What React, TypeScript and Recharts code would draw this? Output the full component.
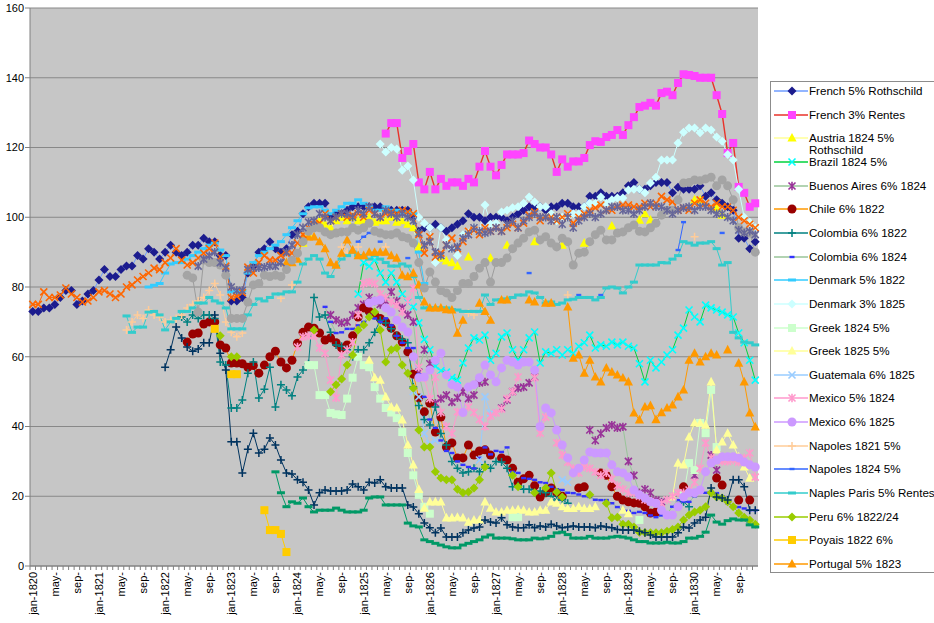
import React from 'react';
import { LineChart, Line, XAxis, YAxis, CartesianGrid } from 'recharts';

document.body.style.margin = '0';

const FONT = '"Liberation Sans", Arial, Helvetica, sans-serif';
const N = 132;
const n = null;

const monthNames = ['jan', 'feb', 'mar', 'apr', 'may', 'jun', 'jul', 'aug', 'sep', 'oct', 'nov', 'dec'];
const years = [1820, 1821, 1822, 1823, 1824, 1825, 1826, 1827, 1828, 1829, 1830];
const months = years.flatMap((y) => monthNames.map((m) => `${m}-${y}`));
const yTicks = [0, 20, 40, 60, 80, 100, 120, 140, 160];

type V = number | null;

// place a run of monthly values starting at month index `start`
function at(start: number, values: V[]): V[] {
  const a: V[] = new Array(N).fill(null);
  values.forEach((v, k) => {
    if (start + k < N) a[start + k] = v;
  });
  return a;
}
function join(...parts: V[][]): V[] {
  return parts[0].map((_, i) => {
    for (const p of parts) if (p[i] != null) return p[i];
    return null;
  });
}

const french5: V[] = [
  73, 73, 74, 74, 75, 77, 79, 79, 75, 76, 78, 79,
  82, 85, 83, 83, 85, 86, 86, 89, 88, 91, 90, 88,
  90, 92, 90, 89, 90, 92, 92, 94, 93, 93, 89, 89,
  76, 76, 77, 84, 86, 90, 91, 93, 91, 90, 91, 95,
  96, 101, 103, 104, 104, 104, 100, 101, 101, 102, 103, 103,
  103, 103, 103, 103, 102, 102, 102, 102, 102, 100, 96, 97,
  97, 98, 97, 96, 97, 98, 99, 101, 100, 100, 99, 100,
  100, 100, 99, 100, 101, 102, 103, 103, 103, 102, 103, 103,
  104, 104, 103, 103, 103, 106, 106, 107, 106, 106, 106, 107,
  109, 110, 108, 108, 109, 110, 110, 110, 107, 108.6, 108, 108,
  108, 109, 106, 107, 105, 104, 103, 102, 94, 94, 91, 93,
];

const french3 = at(64, [
  124, 127, 127, 117, 119, 121, 110, 108, 113, 108, 111, 109, 110, 110, 109, 111, 110, 114.5, 119, 114.5,
  112, 115, 118, 118, 118, 118.4, 122, 121, 120, 120, 118, 113,
  116.6, 114.5, 116, 116, 117, 120.7, 121.8, 121.6, 123, 123.6, 125, 123.6,
  126.4, 128.7, 131.6, 132, 132.8, 132, 135.6, 136, 135, 138.5, 141, 140.8,
  140.5, 140, 140, 140, 135, 129.6, 118.4, 121.3, 108.7, 107, 103, 104,
]);

const austria = at(49, [
  92.6, 95, 98, 99, 98, 97, 99, 100, 99, 100, 99,
  99, 100, 98.6, 99, 99, 100, 98.6, 99, 98, 97, 91.5, n,
  n, n, 88.3, 87.5, 87, 86, n, 88.6, n, n, n, 88.3,
  n, n, 92, n, n, n, n, 93, n, n, n, n,
  92, n, n, n, 92.6, n, n, n, n, 97.5, n, n,
  n, n, 99.2, 101, 99.2, n, n, n, n, n, n, n,
  105, 105, n, n, 102.7, 100.6, n, n, n, n, n, n,
]);

const brazil = at(59, [
  78,
  87, 86, 87.7, 84, 81.4, 84, 81.4, 78, 75.7, 74.3, 69.7, 65,
  62, 57.3, 56, 55.6, 54, 53.3, 58.2, 62.5, 65.4, 64.8, 66.2, 59,
  61, 65.7, 66.8, 62, 59, 62, 65.4, 67.1, 58.2, 61.4, 61, 62,
  60.5, 62, 61, 63, 64, 66.2, 62.5, 63.4, 63, 64.2, 63.4, 64.2,
  63, 62.5, 58, 52.8, 59, 56.8, 58.5, 60.5, 62, 66.2, 68.2, 73.4,
  71.4, 70, 74.8, 74, 73.4, 72.8, 72, 71.4, 66.8, 64, 59, 53.3,
]);

const buenosAires = at(54, [
  72, 70.5, 69.7, 70, 72, 74,
  75, 77, 76, 75, 76, 78.6, 76, 74, 72, 70, 55.6, 62,
  58, 46.7, 48, 49, 47, 48.2, 50, 48, 49, 52.5, 52.8, n,
  n, 45.3, 47.6, 50, 51, 51.3, 52.5, 54.2, n, n, n, n,
  n, n, n, n, n, 39, 36, 38, 39.6, 40.4, 39.6, 39.9,
  30, 26, 21, 22, 21, 18.9, 18.4, n, n, n, n, n,
  26, n, n, 31.8, 27.5, n, n, n, n, n, n, n,
]);

const chile = at(28, [
  64.2, 66.5, 66.8, 69.4, 70, 70, 63.4, 62.5,
  58.2, 58.2, 58, 57, 57.5, 55.3, 57.6, 60, 61.6, 58.5, 56.8, 59,
  63.9, 67, 68.5, 68.2, 66.8, 64.8, 65.4, 64, 62.5, 63.4, 66, 71.4,
  74, 73, 72, 71, 70, 68.2, 66, 64.2, 61.4, 55, 48.2, 44.2,
  46.7, 38.4, 42.7, 34.1, 35.3, 31, 31, 34.7, 31.8, 33, 33.3, 31.8,
  n, 31, 30.4, 28, 24, 25, 26, 23, 19.8, 21, 22.4, 21,
  20, n, n, 22.4, 22.7, n, n, 26.7, 26, 22.7, 20, 18.9,
  18.4, 18.1, 18, 17, 15.2, 15.5, n, n, n, n, 22.7, n,
  n, n, n, n, 25.2, 23.2, n, n, 18.9, n, 18.9, n,
]);

const colombia22 = at(27, [
  71.4, 70, 72, 71, 72, 72, 71, 58.5, 57.6,
  45.3, 45.3, 47.6, 55.3, 58.5, 48.2, 50.7, 57, 45.6, 52, 50.5, 48.8,
  54.2, 56.2, 58, 77, 71.4, 72, 67, 63.4, 63, 62, 60, 62,
  62, 64, 67, 70.5, 69.7, 68, 66, 65, 64, 51.3, 46, 42,
  40.4, 45.6, 38, 34.7, 30, 28, 26.7, 27, 28, 27, 29, 28,
  30, 29.8, 28, 22.7, 23, 22, 22, 21, 21.5, 21, 20, 18.9,
  19, 18, n, n, n, n, n, n, n, n, n, n,
  n, n, n, n, n, n, n, n, n, 17, 18.4, 17,
]);

const colombia24 = at(53, [
  74.3, 70, 66.8, 67, 68, 68, 69,
  70, 72, 71, 70, 71, 69, 66, 64, 62.5, 62.5, 55, 48.5,
  42, 39.6, 36, 33, 32.4, 30, 29, 28.4, 28, 31, 34, 32,
  33, 32.7, 34, 27, 26.7, 25.2, 25, 24.7, 24, 23.8, 22.7, 22,
  21.8, 21, 20.9, 20.5, 20, 19.8, 19, 18.9, 18.9, 18, 16.9, 16,
  15.8, 15.2, 15.5, 15.2, 14.5, 14, 14.5, 15, 17, 18.9, 18.5, 18.4,
  20, 21.8, 21, 21, 20.9, 20, 18, 17, 16.9, 16.5, 16, 16,
]);

const denmark22 = at(21, [
  80, 80.5, 81, 84, 86.6, 87, 87, 88, 89, 90, 91, 92, 92.6, 90.6, 89,
  78.6, 78.6, 79, 84, 87, 89, 90, 91, 92, 93, 95, 97,
  99, 101, 102.7, 103, 103, 102, 101, 102, 103, 104, 104, 105,
  104, 103, 102, 102, 103, 102, 102, 101, 101.5, 101, 90, 81,
]);

const denmark25 = at(63, [
  121, 118.7, 120, 119.6, 113.5, 114.7, 110.7, 100, 98.3, 97, 87, 97, 93.5, 91, 89, 95, 95.5, 97, 96, 103.5, 98,
  98.3, 101.5, 102, 102.7, 103, 104, 105.8, 104.4, 103, 103, 101, 99,
  100, 100, 101, 101, 103, 104, 104, 105.8, 104, 105, 105.5, 105.5,
  107.8, 108, 108, 107, 109.8, 111.5, 116.4, 116.4, 116.4, 121.3, 124.4, 125.6,
  125.6, 124.2, 125.6, 125, 123, 121.8, 118, 116.4, 108, 100, 98.6, 97,
]);

const greek24 = at(50, [
  57.6, 57.6, 49, 49, 43.9, 43.5, 43.3, 48, 54, 60,
  57.6, 57, 51.3, 48, 45.3, 44, 42.4, 38.4, 32.4, 26, 20.4, 17,
  15, n, n, n, n, n, n, n, n, n, n, n,
  n, n, n, 14, 14, n, n, n, n, n, n, n,
  n, n, n, n, n, n, n, n, n, n, n, n,
  n, n, 13.2, n, n, n, n, n, n, n, 20.4, 29.5,
  27.5, 41, 38.1, 50.5, 34.1, n, n, n, n, n, n, n,
]);

const greek25 = at(61, [
  59, 54, 53.3, 48.5, 45.6, 45.3, 41.9, 34.7, 29, 22, 16.6,
  18.4, 18.4, 18.4, 13.8, 13.8, 14, 13.8, 12.6, 13.2, 13.2, 18.4, 16.6,
  15.5, 15.5, 16, 16, 16.2, 16, 15.5, 15.5, 16, 16, 18.4, 18,
  17, 16.5, 16.5, 17, 16.5, 16.5, 17, n, n, n, n, 16,
  15, n, n, n, n, n, n, n, 19.8, 29.5, 29, 37,
  41, 41, 40.4, 52.8, 33.3, 35.6, 38.1, 34.7, 31.3, 28.4, 25.2, n,
]);

const guatemala = at(69, [
  50, 48.5, 38, 35, 36, n, n, n, n, n, n, n, 30.4, 48.5, 43.9,
  n, n, n, n, n, n, n, n, n, n, n, n, 24.7, 24,
]);

const mexico24 = at(48, [
  62.8, 65.7, 66, 66, 62.5, 61, 53.3, 48.2, 60.5, 62, 64.2, 72,
  81, 81.4, 81, 78, 77, 75.7, 74.8, 72.8, 76, 79.7, 57, 54,
  48, 54.2, 44, 40, 38, 44.2, 44, 45.6, 44, 42, 40, 43,
  43.9, 45, 48, 50, 54.2, n, n, 54, 38.1, 42.7, n, 35.3,
  31.8, 29.8, 28, 26.7, 28.4, 28, 27, 26, 26.7, 25, 23, 22,
  21, 21, 20, 19, 18.5, 18, 18, 19, 20, 21, 21, 21.8,
  24, 28, 35.3, 31, 30.4, 30, 30, 30.4, 29.8, 31, 32.4, 25.5,
]);

const mexico25 = at(61, [
  75.4, 76, 76.3, 74, 72.8, 70.5, 68.5, 67.1, 60, 54, 54.2,
  56.2, 59, 61, 54.8, 52, 51.3, 44, 51.3, 52, 54, 57.6, 54.8,
  52.8, 56.8, 59, 58.5, 57.6, 58.5, 58.5, 56.2, 40, 45.3, 43.9, 39,
  34.7, 31, 26.7, 28, 30.4, 32.7, 32.4, 32.4, 32.4, 29, 27, 26.7,
  25.5, 21.8, 20.4, 19.5, 18.4, 18, 16, 14.6, 14.6, 17, 19.8, 21,
  21, 21.8, 27, 29.5, 30.4, 31.3, 31.3, 31.3, 31, 29.8, 29, 28.4,
]);

const napoles21 = join(
  at(17, [67.7, 70, 72, 71, 73.4, 72, 71.4, 70, 70.5, 71, 72, 74, 75, 76, 77, 79, 81, 77.7, 70, 67, 65.7, 66.8]),
  at(45, [76.8, n, 80.6]),
  at(56, [91.5, 90, n, 91.5]),
  at(64, [91.5]),
  at(79, [72.5, 72]),
  at(97, [77.7]),
  at(120, [94.4]),
);

const napoles24 = join(
  at(59, [93, 94.4, 95.5, n, 93]),
  at(68, [88.3]),
  at(90, [84]),
  at(99, [77.7]),
  at(103, [77.7]),
  at(117, [90.6, 98.6]),
  at(125, [95.5]),
);

const naplesParis = at(17, [
  71.7, 67, 68.5, 68.5, 72.8, 73, 72,
  67.7, 70, 71, 73, 73, 74, 75.4, 75.4, 77, 76, 75.4, 74,
  68, 68, 68, 72, 75, 76.6, 76, 77, 78, 78, 78.6, 78.6,
  81.4, 86.6, 88, 89, 88, 84, 83, 86, 88, 89, 90, 89,
  89, 88, 89, 88, 87, 86, 86, 86.6, 86, 83, 77, 74,
  74, 74, 74, 74, 73.5, 73.4, 73, 73, 73, 73, 77.7, 75,
  76.3, 76.3, 76.6, 77, 77.7, 77.7, 78.6, 78.3, 77, 75.4, 75.7, 75,
  75.4, 76.3, 76.5, 77, 77, 77, 76.3, 77, 79.7, 80, 79.7, 78.3,
  80, 81.4, 86.3, 86.3, 86.3, 86.3, 87, 86.9, 88, 89, 93, 92.6,
  92, 92.6, 92.6, 93, 91, 86.3, 87, 67, 65.4, 64.2, 64, 63.4,
]);

const peru = at(34, [
  66, n,
  60, 60, n, n, n, n, n, n, n, n, n, n,
  n, n, n, 67.7, n, n, 50, 52, 53.6, 57.6, 60.5, 67.7,
  69.1, 71.4, 72.8, 67.7, 58.5, 62, 62.5, 57.6, 55.3, 51, 39, 34.1,
  34.1, 27, 25.2, 24.7, 24.7, 22, 21, 21.2, 22.4, 24.7, 28.4, n,
  n, n, n, 26, 22.7, n, n, 21, n, 22.4, 26.7, 21.2,
  19.8, n, n, n, n, 20.4, n, n, 18, 13.8, 14, 12,
  12, 11.2, 9.7, 9.6, 9.5, 9.5, 9.5, 10, 10.5, 11.2, 13.2, 14.6,
  15.5, 16, 17, 21, 19.8, 19.5, 18.4, 17, 15.2, 14, 13.2, 12,
]);

const poyais = at(33, [68, n, n, 55, 55, n, n, n, n, 16, 10.3, 10.3, 9.2, 4]);

const portugal = at(46, [
  87, 87, 88, 94.4, 94.4, 94.4, 93, 91, 87, 86.3, 89.7, 93.5, 90.6, 89,
  89, 90, 90, 90, 90, 89, 88.3, 83.4, 83, 84, 80.6, 75.7,
  74, 74, 74, 73.5, 73.4, 66.8, 70.5, n, n, 75.4, 73, 70.5,
  n, 76.3, 76.3, n, n, n, 76.3, 75.7, n, 75.4, 75.4, n,
  n, 74.3, 59.6, 60.5, 55.3, 59, 54.2, 52.8, 56.8, 55.6, 54.8, 53.9,
  52.8, 43.9, 41.9, 45.6, 46, 42, 44, 45.3, 46.2, 48.5, 50.5, 59,
  61, 58.5, 60, 61, 60.5, n, 62, n, 58.2, 52.8, 43.9, 39.9,
]);

// series past Portugal whose legend entries are cut off in the original
const seriesX: V[] = [
  75, 75, 78.6, 77, 77, 77.7, 79.7, 78, 77, 75.7, 76, 77,
  78.6, 79, 78, 77, 78, 80, 80.6, 82, 83, 84, 85.4, 85,
  87, 88.3, 91, 87.7, 86.3, 87, 88.3, 89.7, 91, 92.6, 88.6, 86,
  77, 77.4, 78.4, 85.7, 84, 87, 89, 87.7, 87.7, 89, 89.7, 89.7,
  92.6, 95, 97, 97.8, 98.3, 101, 99, 100, 101, 100, 100.6, 101,
  100, 102, 101, 100, 101, 101.5, 101, 102, 101.5, 101, 95, 89.7,
  94.4, 88.6, 89.7, 92, 94, 91, 93, 96, 96.3, 95, 97, 96,
  97, 96, 97, 98, 97, 98.3, 100.6, 101.5, 99, 100, 100, 99,
  100, 101, 98.3, 100, 101, 102, 102.7, 103.5, 102, 102, 103, 103.5,
  103.5, 103, 103, 104, 103, 104, 106, 105, 104.4, 102, 102.7, 102,
  104, 105, 104, 103, 104, 103, 103, 102, 100, 99, 98, 97,
];

const seriesGray = at(28, [
  83.4, 82.6, 72.8, 87.7, 87, 87, 86.3, 83.4,
  71, 71, 71, 75.7, 80.6, 81, 83.4, 83, 83.4, 83, 85, 87.7,
  89.7, 93, 96, 97, 97, 95.8, 95, 95.5, 95.8, 95.8, 97, 96.3,
  97, 98.3, 96, 95.5, 95, 95, 95.5, 94.4, 94, 92.6, 87, 79.7,
  84.3, 81.4, 79, 78.3, 77, 79, 81, 81, 83, 85.4, 87, 81.4,
  87, 87, 88.3, 91, 92.6, 94, 95.8, 96.3, 93.5, 94.4, 92.6, 91.5,
  94, 93, 86.3, 89.7, 90, 93, 95, 96.3, 93.5, 93.5, 95.5, 95.8,
  97, 97.8, 96, 95.8, 97, 98.3, 100.6, 102, 102, 105, 109.8, 110,
  110.7, 110.5, 111, 111.5, 109, 110.7, 109, 105, 97, 95.8, 95.5, 90,
]);

const seriesSlate = at(30, [
  86, 88, 89, 90, 87, 85.4,
  80, 79, 79, 85, 85.5, 85.5, 85.7, 86, 86, 87, 90, 92,
  95, 97, 98.6, 99, 101, 100, 99, 100, 101, 101, 100, 102,
  101, 103, 101, 100, 102, 101, 100, 101, 100, 99, 95.5, 92,
  93, 90, 89, 92, 91, 91.5, 94, 95, 97, 96, 95.5, 96,
  97, 96, 98, 99, 97, 99, 100, 101, 100, 100, 99, 100,
  98, 100, 97, 99, 100, 101, 100, 101, 102, 103, 103, 102,
  102, 101, 102, 103, 104, 103, 103, 102, 101, 102, 102.7, 103,
  102, 103, 103, 102, 101, 101, 100, 99, 96.3, 95.5, 96, 95,
]);

const seriesNavy = at(24, [
  57, 62, 68.5, 65.4, 62.8, 61.6, 62.2, 64, 64, 72, 61, 56.2,
  35.6, 35.6, 26.7, 33.5, 38.1, 32.4, 33.5, 36.7, 34.7, 30.4, 26.7, 26.4,
  24.7, 24, 21.8, 17.5, 21, 21.8, 21.5, 21.5, 21.5, 21.8, 23.5, 22.7,
  21.8, 24, 23.8, 24.7, 22.7, 22.4, 22.4, 22.4, 17.5, 16.9, 15, 12.3,
  11, 9.5, 10.9, 8.3, 8.3, 8.3, 9.5, 10.3, 10.9, 11.2, 13.2, 12.6,
  12.3, 13.8, 11.8, 11.2, 11, 11, 11.8, 11, 11.5, 11.2, 12, 11.5,
  11, 11.2, 11.5, 11.2, 11.2, 11.2, 11, 11.5, 11.2, 11, 10.5, 10.3,
  10.3, 10.3, 10, 9.5, 8.9, 8.3, 8.3, 8.3, 8.3, 9.5, 11.2, 10.9,
  12.3, 13.2, 14, 22.4, 19.8, 19.5, 18.9, 24.7, 24.7, 22.7, 16, 16,
]);

const seriesGreen = at(44, [
  27, 21, 17, 18.4,
  18, 19.5, 17, 15.5, 16, 16, 16, 16.6, 16, 15.5, 15.5, 15.5,
  16, 19.5, 19.8, 19.8, 17.5, 17.5, 17.5, 17.5, 12.3, 11.5, 11.2, 7.5,
  7, 6.5, 6, 5.5, 5.2, 5.2, 6, 6.5, 7, 7.5, 8.3, 8.9,
  8, 8, 8, 7.8, 7.5, 7.5, 7.5, 8, 7.8, 8, 8.5, 9.5,
  9.7, 9, 8, 8, 8, 8.5, 8, 8, 8, 8.3, 8.5, 8.3,
  8, 7.5, 7, 7, 6.6, 6.6, 6.6, 6.8, 6.6, 6.6, 7, 8,
  8, 8.5, 9.7, 14.6, 12.6, 12, 13, 13.5, 13.2, 13.2, 11.8, 11.2,
]);

type Shape = 'diamond' | 'square' | 'triangle' | 'x' | 'star' | 'circle' | 'plus' | 'dash' | 'smalldash';

interface Series {
  key: string;
  name: string;
  values: V[];
  line: string;
  marker: string;
  shape: Shape;
  legend?: string[];
  width?: number;
}

const SERIES: Series[] = [
  { key: 'french5', name: 'French 5% Rothschild', values: french5, line: '#6f9cff', marker: '#1c1c8e', shape: 'diamond', legend: ['French 5% Rothschild'] },
  { key: 'french3', name: 'French 3% Rentes', values: french3, line: '#e8322a', marker: '#ff44ff', shape: 'square', legend: ['French 3% Rentes'], width: 1.4 },
  { key: 'austria', name: 'Austria 1824 5% Rothschild', values: austria, line: '#ffff99', marker: '#ffff00', shape: 'triangle', legend: ['Austria 1824 5%', 'Rothschild'] },
  { key: 'brazil', name: 'Brazil 1824 5%', values: brazil, line: '#00d23c', marker: '#00ffff', shape: 'x', legend: ['Brazil 1824 5%'] },
  { key: 'buenosAires', name: 'Buenos Aires 6% 1824', values: buenosAires, line: '#99c499', marker: '#993399', shape: 'star', legend: ['Buenos Aires 6% 1824'] },
  { key: 'chile', name: 'Chile 6% 1822', values: chile, line: '#ff9900', marker: '#990000', shape: 'circle', legend: ['Chile 6% 1822'] },
  { key: 'colombia22', name: 'Colombia 6% 1822', values: colombia22, line: '#008080', marker: '#008080', shape: 'plus', legend: ['Colombia 6% 1822'] },
  { key: 'colombia24', name: 'Colombia 6% 1824', values: colombia24, line: '#99c499', marker: '#3333ff', shape: 'smalldash', legend: ['Colombia 6% 1824'] },
  { key: 'denmark22', name: 'Denmark 5% 1822', values: denmark22, line: '#33ccff', marker: '#33ccff', shape: 'dash', legend: ['Denmark 5% 1822'] },
  { key: 'denmark25', name: 'Denmark 3% 1825', values: denmark25, line: '#ccffff', marker: '#ccffff', shape: 'diamond', legend: ['Denmark 3% 1825'] },
  { key: 'greek24', name: 'Greek 1824 5%', values: greek24, line: '#ccffcc', marker: '#ccffcc', shape: 'square', legend: ['Greek 1824 5%'] },
  { key: 'greek25', name: 'Greek 1825 5%', values: greek25, line: '#ffff99', marker: '#ffff99', shape: 'triangle', legend: ['Greek 1825 5%'] },
  { key: 'guatemala', name: 'Guatemala 6% 1825', values: guatemala, line: '#99ccff', marker: '#99ccff', shape: 'x', legend: ['Guatemala 6% 1825'] },
  { key: 'mexico24', name: 'Mexico 5% 1824', values: mexico24, line: '#ff99cc', marker: '#ff99cc', shape: 'star', legend: ['Mexico 5% 1824'] },
  { key: 'mexico25', name: 'Mexico 6% 1825', values: mexico25, line: '#cc99ff', marker: '#cc99ff', shape: 'circle', legend: ['Mexico 6% 1825'] },
  { key: 'napoles21', name: 'Napoles 1821 5%', values: napoles21, line: '#ffcc99', marker: '#ffcc99', shape: 'plus', legend: ['Napoles 1821 5%'] },
  { key: 'napoles24', name: 'Napoles 1824 5%', values: napoles24, line: '#3366ff', marker: '#3366ff', shape: 'smalldash', legend: ['Napoles 1824 5%'] },
  { key: 'naplesParis', name: 'Naples Paris 5% Rentes', values: naplesParis, line: '#33cccc', marker: '#33cccc', shape: 'dash', legend: ['Naples Paris 5% Rentes'] },
  { key: 'peru', name: 'Peru 6% 1822/24', values: peru, line: '#99cc00', marker: '#99cc00', shape: 'diamond', legend: ['Peru 6% 1822/24'] },
  { key: 'poyais', name: 'Poyais 1822 6%', values: poyais, line: '#ffcc00', marker: '#ffcc00', shape: 'square', legend: ['Poyais 1822 6%'] },
  { key: 'portugal', name: 'Portugal 5% 1823', values: portugal, line: '#ff9900', marker: '#ff9900', shape: 'triangle', legend: ['Portugal 5% 1823'] },
  { key: 'seriesX', name: 'seriesX', values: seriesX, line: '#ff6600', marker: '#ff6600', shape: 'x' },
  { key: 'seriesGray', name: 'seriesGray', values: seriesGray, line: '#9c9c9c', marker: '#a4a4a4', shape: 'circle' },
  { key: 'seriesSlate', name: 'seriesSlate', values: seriesSlate, line: '#666699', marker: '#666699', shape: 'star' },
  { key: 'seriesNavy', name: 'seriesNavy', values: seriesNavy, line: '#00335f', marker: '#00335f', shape: 'plus' },
  { key: 'seriesGreen', name: 'seriesGreen', values: seriesGreen, line: '#009966', marker: '#009966', shape: 'dash' },
];

const rows = months.map((month, i) => {
  const row: Record<string, string | V> = { month };
  SERIES.forEach((s) => {
    row[s.key] = s.values[i];
  });
  return row;
});

function Marker({ cx, cy, shape, color }: { cx: number; cy: number; shape: Shape; color: string }) {
  switch (shape) {
    case 'diamond':
      return <polygon points={`${cx},${cy - 4.5} ${cx + 4.5},${cy} ${cx},${cy + 4.5} ${cx - 4.5},${cy}`} fill={color} />;
    case 'square':
      return <rect x={cx - 4} y={cy - 4} width={8} height={8} fill={color} />;
    case 'triangle':
      return <polygon points={`${cx},${cy - 5} ${cx + 4.6},${cy + 3.6} ${cx - 4.6},${cy + 3.6}`} fill={color} />;
    case 'circle':
      return <circle cx={cx} cy={cy} r={4.5} fill={color} />;
    case 'x':
      return (
        <path
          d={`M${cx - 3.5},${cy - 3.5}L${cx + 3.5},${cy + 3.5}M${cx - 3.5},${cy + 3.5}L${cx + 3.5},${cy - 3.5}`}
          stroke={color}
          strokeWidth={1.6}
          fill="none"
        />
      );
    case 'star':
      return (
        <path
          d={`M${cx - 3.5},${cy - 3.5}L${cx + 3.5},${cy + 3.5}M${cx - 3.5},${cy + 3.5}L${cx + 3.5},${cy - 3.5}M${cx},${cy - 4.2}V${cy + 4.2}`}
          stroke={color}
          strokeWidth={1.6}
          fill="none"
        />
      );
    case 'plus':
      return <path d={`M${cx - 4},${cy}H${cx + 4}M${cx},${cy - 4}V${cy + 4}`} stroke={color} strokeWidth={1.5} fill="none" />;
    case 'dash':
      return <rect x={cx - 4} y={cy - 1.5} width={8} height={3} fill={color} />;
    case 'smalldash':
      return <rect x={cx - 2.5} y={cy - 1.2} width={5} height={2.4} fill={color} />;
  }
  return null;
}

const makeDot = (s: Series) => (p: any) => {
  const k = `${s.key}-${p.index}`;
  if (p.cx == null || p.cy == null || p.value == null || Number.isNaN(p.cy)) return <g key={k} />;
  return (
    <g key={k}>
      <Marker cx={p.cx} cy={p.cy} shape={s.shape} color={s.marker} />
    </g>
  );
};

const PLOT_W = 728;
const BAND = PLOT_W / N;

function MonthTick(props: any) {
  const { x, y, payload } = props;
  const i = months.indexOf(payload.value);
  const m = i % 12;
  const label = m === 0 ? payload.value : m === 4 ? 'may-' : m === 8 ? 'sep-' : '';
  const bx = x - BAND / 2;
  const ty = y + 6;
  return (
    <g>
      <line x1={bx} x2={bx} y1={y} y2={y + 4} stroke="#808080" />
      {label ? (
        <text
          x={x}
          y={ty}
          transform={`rotate(-90 ${x} ${ty})`}
          textAnchor="end"
          dy="0.35em"
          fontSize={11}
          fill="#000"
          fontFamily={FONT}
        >
          {label}
        </text>
      ) : null}
    </g>
  );
}

function LegendBox() {
  const items = SERIES.filter((s) => s.legend);
  return (
    <div
      style={{
        position: 'absolute',
        left: 770,
        top: 81,
        width: 175,
        height: 492,
        border: '1px solid #8c8c8c',
        boxSizing: 'border-box',
        background: '#fff',
        fontFamily: FONT,
        fontSize: 11.6,
        color: '#000',
      }}
    >
      {items.map((s, k) => {
        const cy = 9 + 23.65 * k;
        const lines = s.legend || [];
        return (
          <div key={s.key} style={{ position: 'absolute', left: 0, top: cy - 8, height: 16, width: 175 }}>
            <svg width={38} height={16} style={{ position: 'absolute', left: 0, top: 0 }}>
              <line x1={3} x2={37} y1={8} y2={8} stroke={s.line} strokeWidth={1.5} />
              <Marker cx={21} cy={8} shape={s.shape} color={s.marker} />
            </svg>
            {lines.map((t, j) => (
              <div
                key={t}
                style={{
                  position: 'absolute',
                  left: 38,
                  top: lines.length > 1 ? 1.5 + j * 12 : 2,
                  lineHeight: '12px',
                  whiteSpace: 'nowrap',
                }}
              >
                {t}
              </div>
            ))}
          </div>
        );
      })}
    </div>
  );
}

export default function App() {
  return (
    <div style={{ position: 'relative', width: 934, height: 623, background: '#fff', overflow: 'hidden' }}>
      <LineChart width={934} height={623} data={rows} margin={{ top: 8, right: 176, bottom: 0, left: 0 }}>
        <CartesianGrid vertical={false} stroke="#888888" fill="#c6c6c6" />
        <XAxis
          dataKey="month"
          interval={0}
          height={57}
          padding={{ left: BAND / 2, right: BAND / 2 }}
          tickSize={0}
          tickMargin={0}
          tickLine={false}
          tick={<MonthTick />}
          axisLine={{ stroke: '#808080' }}
        />
        <YAxis
          domain={[0, 160]}
          ticks={yTicks}
          width={30}
          tickSize={5}
          tickMargin={1}
          tick={{ fontSize: 11, fill: '#000', fontFamily: FONT }}
          axisLine={{ stroke: '#808080' }}
          tickLine={{ stroke: '#808080' }}
        />
        <YAxis
          yAxisId="edge"
          orientation="right"
          width={0}
          domain={[0, 160]}
          tick={false}
          tickLine={false}
          axisLine={{ stroke: '#8a8a8a', strokeWidth: 2 }}
        />
        {SERIES.map((s) => (
          <Line
            key={s.key}
            type="linear"
            dataKey={s.key}
            name={s.name}
            stroke={s.line}
            strokeWidth={s.width ?? 1}
            dot={makeDot(s)}
            activeDot={false}
            connectNulls={false}
            isAnimationActive={false}
          />
        ))}
      </LineChart>
      <LegendBox />
    </div>
  );
}
